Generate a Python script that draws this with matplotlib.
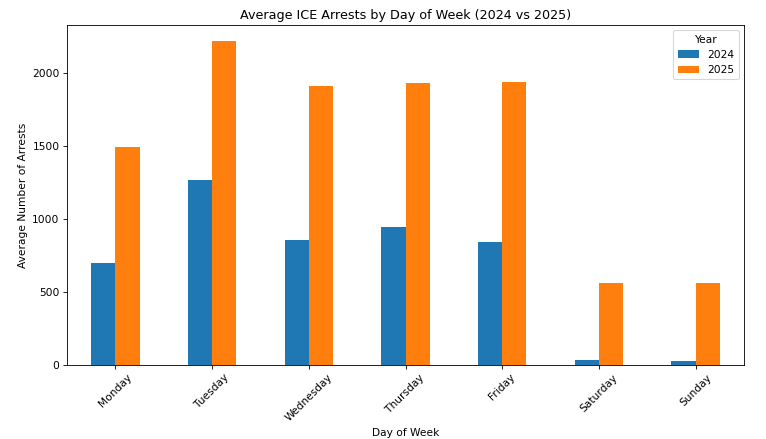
import matplotlib
matplotlib.use("Agg")
import matplotlib.pyplot as plt
import numpy as np
import pandas as pd

DAYS = ["Monday", "Tuesday", "Wednesday", "Thursday", "Friday", "Saturday", "Sunday"]
ARRESTS_2024 = [697, 1269, 857, 944, 839, 36, 30]
ARRESTS_2025 = [1492, 2217, 1909, 1931, 1941, 558, 558]


def main() -> None:
    df = pd.DataFrame({"2024": ARRESTS_2024, "2025": ARRESTS_2025}, index=DAYS)
    df.columns.name = "Year"

    fig, ax = plt.subplots(figsize=(10, 439 / 76.6), dpi=76.6)
    df.plot(kind="bar", ax=ax, color=["#1f77b4", "#ff7f0e"])
    ax.set_title("Average ICE Arrests by Day of Week (2024 vs 2025)")
    ax.set_xlabel("Day of Week")
    ax.set_ylabel("Average Number of Arrests")
    ax.tick_params(axis="x", labelrotation=45)
    ax.legend(title="Year", loc="upper right")

    fig.subplots_adjust(left=67 / 766, right=744 / 766, top=1 - 25 / 439, bottom=1 - 365 / 439)
    fig.savefig("out.png", dpi=76.6)
    plt.close(fig)


if __name__ == "__main__":
    main()
